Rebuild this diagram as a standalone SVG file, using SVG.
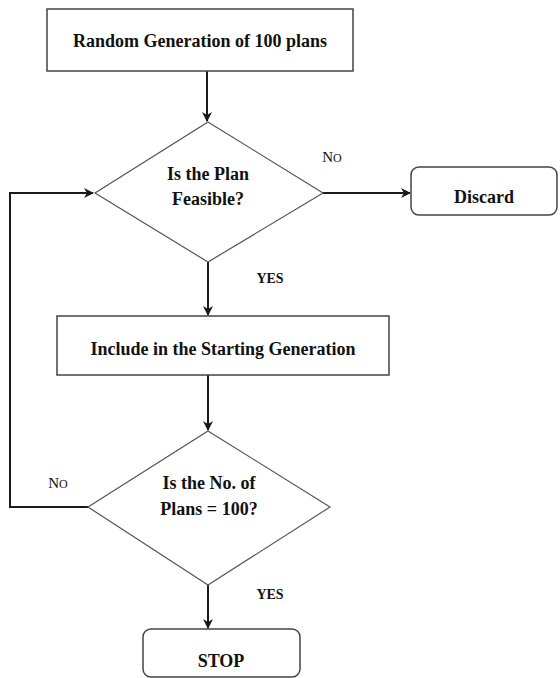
<svg xmlns="http://www.w3.org/2000/svg" width="560" height="678" viewBox="0 0 560 678">
<defs>
<marker id="arr" viewBox="0 0 10 10" refX="9" refY="5" markerWidth="10" markerHeight="10" markerUnits="userSpaceOnUse" orient="auto">
<path d="M0,0 L10,5 L0,10 L3,5 z" fill="#1a1a1a"/>
</marker>
</defs>
<style>
.box{fill:#fff;stroke:#444;stroke-width:1.5}
.dia{fill:#fff;stroke:#555;stroke-width:1.2}
.con{fill:none;stroke:#1a1a1a;stroke-width:2}
.t{font-family:"Liberation Serif","Times New Roman",serif;font-weight:bold;font-size:18px;fill:#111;text-anchor:middle}
.lbl{font-family:"Liberation Serif","Times New Roman",serif;font-weight:bold;font-size:14px;fill:#111;text-anchor:middle}
.no{font-family:"Liberation Serif","Times New Roman",serif;font-size:15px;fill:#111;text-anchor:middle}
</style>
<rect width="560" height="678" fill="#fff"/>
<g id="connectors">
<path class="con" d="M207,71 V121" marker-end="url(#arr)"/>
<path class="con" d="M323,193 H410" marker-end="url(#arr)"/>
<path class="con" d="M208,262 V315" marker-end="url(#arr)"/>
<path class="con" d="M208,375 V430" marker-end="url(#arr)"/>
<path class="con" d="M88,507 H10 V193 H93" marker-end="url(#arr)"/>
<path class="con" d="M208,585 V628" marker-end="url(#arr)"/>
<text class="no" x="332" y="162">N<tspan font-size="12">O</tspan></text>
<text class="lbl" x="270" y="283">YES</text>
<text class="no" x="58" y="488">N<tspan font-size="12">O</tspan></text>
<text class="lbl" x="270" y="599">YES</text>
</g>
<g id="random">
<rect class="box" x="47" y="9" width="306" height="62"/>
<text class="t" x="200" y="47">Random Generation of 100 plans</text>
</g>
<g id="feasible">
<polygon class="dia" points="208,122 323,193 208,262 95,193"/>
<text class="t" x="208" y="180">Is the Plan</text>
<text class="t" x="208" y="205">Feasible?</text>
</g>
<g id="discard">
<rect class="box" x="411" y="167" width="146" height="48" rx="8"/>
<text class="t" x="484" y="203">Discard</text>
</g>
<g id="include">
<rect class="box" x="57" y="316" width="332" height="59"/>
<text class="t" x="223" y="355">Include in the Starting Generation</text>
</g>
<g id="count">
<polygon class="dia" points="208,431 330,507 208,585 88,507"/>
<text class="t" x="209" y="489">Is the No. of</text>
<text class="t" x="209" y="515">Plans = 100?</text>
</g>
<g id="stop">
<rect class="box" x="143" y="629" width="157" height="48" rx="8"/>
<text class="t" x="221" y="667">STOP</text>
</g>
</svg>
